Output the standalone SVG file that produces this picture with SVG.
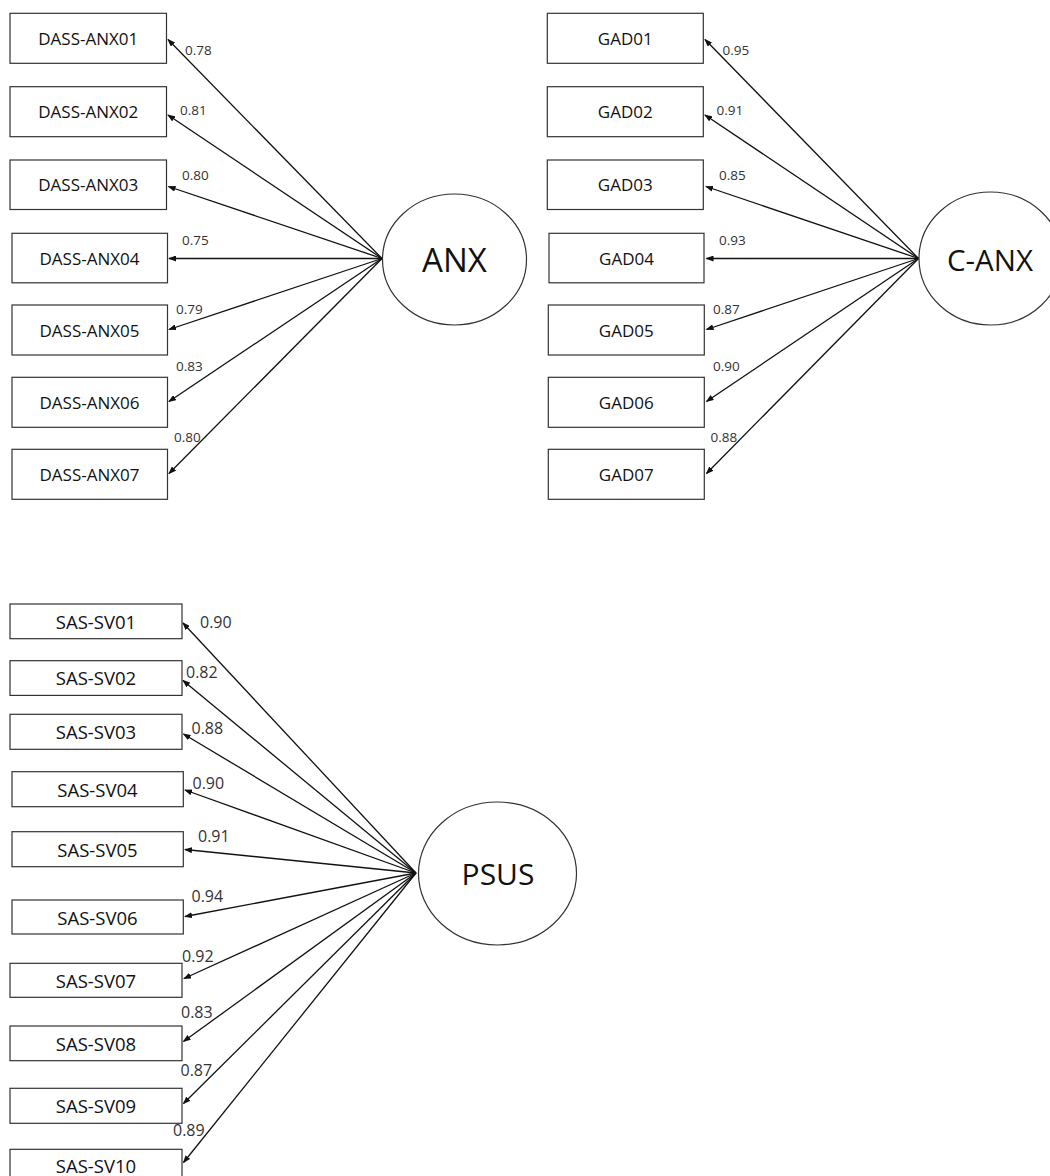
<svg xmlns="http://www.w3.org/2000/svg" width="1050" height="1176" viewBox="0 0 1050 1176">
<style>
  .box { fill: #fff; stroke: #333; stroke-width: 1.2; }
  .lat { fill: #fff; stroke: #333; stroke-width: 1.2; }
  .t { font-family: "Open Sans", "Liberation Sans", sans-serif; fill: #111; text-anchor: middle; }
  .s { font-size: 17px; }
  .b { font-size: 18.5px; }
  .lv { font-family: "Open Sans", "Liberation Sans", sans-serif; fill: #333; }
  .ls { font-size: 13.5px; }
  .lb { font-size: 16px; }
  .c line { stroke: #111; stroke-width: 1.3; marker-end: url(#ah); }
</style>
<defs>
  <marker id="ah" markerUnits="userSpaceOnUse" markerWidth="8" markerHeight="6" refX="7" refY="3" orient="auto">
    <path d="M0,0 L8,3 L0,6 z" fill="#111"/>
  </marker>
</defs>
<rect width="1050" height="1176" fill="#fff"/>

<g id="connectors" class="c">
  <line x1="382" y1="258.5" x2="168" y2="39.5"/>
  <line x1="382" y1="258.5" x2="168" y2="115"/>
  <line x1="382" y1="258.5" x2="168.5" y2="186.5"/>
  <line x1="382" y1="258.5" x2="169" y2="258.5"/>
  <line x1="382" y1="258.5" x2="169" y2="329.5"/>
  <line x1="382" y1="258.5" x2="169" y2="401.5"/>
  <line x1="382" y1="258.5" x2="169" y2="473.5"/>

  <line x1="918.5" y1="258.5" x2="705" y2="39.5"/>
  <line x1="918.5" y1="258.5" x2="705" y2="115"/>
  <line x1="918.5" y1="258.5" x2="706" y2="186.5"/>
  <line x1="918.5" y1="258.5" x2="706.5" y2="258.5"/>
  <line x1="918.5" y1="258.5" x2="706.5" y2="329.5"/>
  <line x1="918.5" y1="258.5" x2="706.5" y2="401.5"/>
  <line x1="918.5" y1="258.5" x2="706.5" y2="473.5"/>

  <line x1="416" y1="873" x2="183" y2="623"/>
  <line x1="416" y1="873" x2="183" y2="680.5"/>
  <line x1="416" y1="873" x2="183.5" y2="734"/>
  <line x1="416" y1="873" x2="185" y2="790"/>
  <line x1="416" y1="873" x2="185" y2="849.5"/>
  <line x1="416" y1="873" x2="185" y2="916.5"/>
  <line x1="416" y1="873" x2="184" y2="978.5"/>
  <line x1="416" y1="873" x2="183.5" y2="1041.5"/>
  <line x1="416" y1="873" x2="183.5" y2="1103.5"/>
  <line x1="416" y1="873" x2="183.5" y2="1162.5"/>
</g>

<g id="loadings">
  <text class="lv ls" x="185" y="55">0.78</text>
  <text class="lv ls" x="180" y="114.5">0.81</text>
  <text class="lv ls" x="182" y="179.5">0.80</text>
  <text class="lv ls" x="182" y="244.5">0.75</text>
  <text class="lv ls" x="176" y="313.5">0.79</text>
  <text class="lv ls" x="176" y="370.5">0.83</text>
  <text class="lv ls" x="174" y="442">0.80</text>

  <text class="lv ls" x="722.5" y="55">0.95</text>
  <text class="lv ls" x="716.5" y="114.5">0.91</text>
  <text class="lv ls" x="719" y="179.5">0.85</text>
  <text class="lv ls" x="719" y="244.5">0.93</text>
  <text class="lv ls" x="713" y="313.5">0.87</text>
  <text class="lv ls" x="713" y="370.5">0.90</text>
  <text class="lv ls" x="710.5" y="442">0.88</text>

  <text class="lv lb" x="200" y="627.5">0.90</text>
  <text class="lv lb" x="186" y="678">0.82</text>
  <text class="lv lb" x="191.5" y="734">0.88</text>
  <text class="lv lb" x="192.5" y="789">0.90</text>
  <text class="lv lb" x="198" y="842">0.91</text>
  <text class="lv lb" x="191.5" y="901.5">0.94</text>
  <text class="lv lb" x="182" y="961.5">0.92</text>
  <text class="lv lb" x="181" y="1018">0.83</text>
  <text class="lv lb" x="180.5" y="1076">0.87</text>
  <text class="lv lb" x="173" y="1135.5">0.89</text>
</g>

<g id="ANX"><ellipse class="lat" cx="454.5" cy="259.5" rx="72" ry="65.5"/><text class="t" x="454.5" y="272" font-size="33">ANX</text></g>
<g id="C-ANX"><ellipse class="lat" cx="990.5" cy="258.5" rx="71.5" ry="66.5"/><text class="t" x="990" y="270.5" font-size="29.5">C-ANX</text></g>
<g id="PSUS"><ellipse class="lat" cx="497.5" cy="873.5" rx="79" ry="71.5"/><text class="t" x="498" y="885" font-size="30">PSUS</text></g>

<g id="DASS-ANX01"><rect class="box" x="10" y="13.3" width="156.5" height="50"/><text class="t s" x="88.3" y="44.5">DASS-ANX01</text></g>
<g id="DASS-ANX02"><rect class="box" x="10" y="86.7" width="156.5" height="50"/><text class="t s" x="88.3" y="118">DASS-ANX02</text></g>
<g id="DASS-ANX03"><rect class="box" x="10" y="160" width="156.5" height="49.5"/><text class="t s" x="88.3" y="191">DASS-ANX03</text></g>
<g id="DASS-ANX04"><rect class="box" x="12" y="233.3" width="155.5" height="49.5"/><text class="t s" x="89.5" y="264.5">DASS-ANX04</text></g>
<g id="DASS-ANX05"><rect class="box" x="12" y="305" width="155.5" height="50"/><text class="t s" x="89.5" y="336.5">DASS-ANX05</text></g>
<g id="DASS-ANX06"><rect class="box" x="12" y="377.3" width="155.5" height="50"/><text class="t s" x="89.5" y="408.5">DASS-ANX06</text></g>
<g id="DASS-ANX07"><rect class="box" x="12" y="449.3" width="155.5" height="50"/><text class="t s" x="89.5" y="480.5">DASS-ANX07</text></g>

<g id="GAD01"><rect class="box" x="547.3" y="13.3" width="156" height="50"/><text class="t s" x="625.3" y="44.5">GAD01</text></g>
<g id="GAD02"><rect class="box" x="547.3" y="86.7" width="156" height="50"/><text class="t s" x="625.3" y="118">GAD02</text></g>
<g id="GAD03"><rect class="box" x="547.3" y="160" width="156" height="49.5"/><text class="t s" x="625.3" y="191">GAD03</text></g>
<g id="GAD04"><rect class="box" x="549" y="233.3" width="155" height="49.5"/><text class="t s" x="626.5" y="264.5">GAD04</text></g>
<g id="GAD05"><rect class="box" x="548.3" y="305" width="156" height="50"/><text class="t s" x="626.3" y="336.5">GAD05</text></g>
<g id="GAD06"><rect class="box" x="548.3" y="377.3" width="156" height="50"/><text class="t s" x="626.3" y="408.5">GAD06</text></g>
<g id="GAD07"><rect class="box" x="548.3" y="449.3" width="156" height="50"/><text class="t s" x="626.3" y="480.5">GAD07</text></g>

<g id="SAS-SV01"><rect class="box" x="10" y="604" width="172" height="34.7"/><text class="t b" x="96" y="628.5">SAS-SV01</text></g>
<g id="SAS-SV02"><rect class="box" x="10" y="660.7" width="172" height="34.7"/><text class="t b" x="96" y="685">SAS-SV02</text></g>
<g id="SAS-SV03"><rect class="box" x="10" y="714.3" width="172" height="35"/><text class="t b" x="96" y="739">SAS-SV03</text></g>
<g id="SAS-SV04"><rect class="box" x="12" y="771.7" width="171.3" height="35"/><text class="t b" x="97.5" y="796.5">SAS-SV04</text></g>
<g id="SAS-SV05"><rect class="box" x="12" y="831.7" width="171.3" height="35"/><text class="t b" x="97.5" y="856.5">SAS-SV05</text></g>
<g id="SAS-SV06"><rect class="box" x="12" y="900" width="171.3" height="34"/><text class="t b" x="97.5" y="924.5">SAS-SV06</text></g>
<g id="SAS-SV07"><rect class="box" x="10" y="963.3" width="172" height="34"/><text class="t b" x="96" y="987.5">SAS-SV07</text></g>
<g id="SAS-SV08"><rect class="box" x="10" y="1026" width="172" height="34.7"/><text class="t b" x="96" y="1050.5">SAS-SV08</text></g>
<g id="SAS-SV09"><rect class="box" x="10" y="1088.3" width="172" height="35"/><text class="t b" x="96" y="1113">SAS-SV09</text></g>
<g id="SAS-SV10"><rect class="box" x="10" y="1149.3" width="172" height="35"/><text class="t b" x="96" y="1172.5">SAS-SV10</text></g>
</svg>
